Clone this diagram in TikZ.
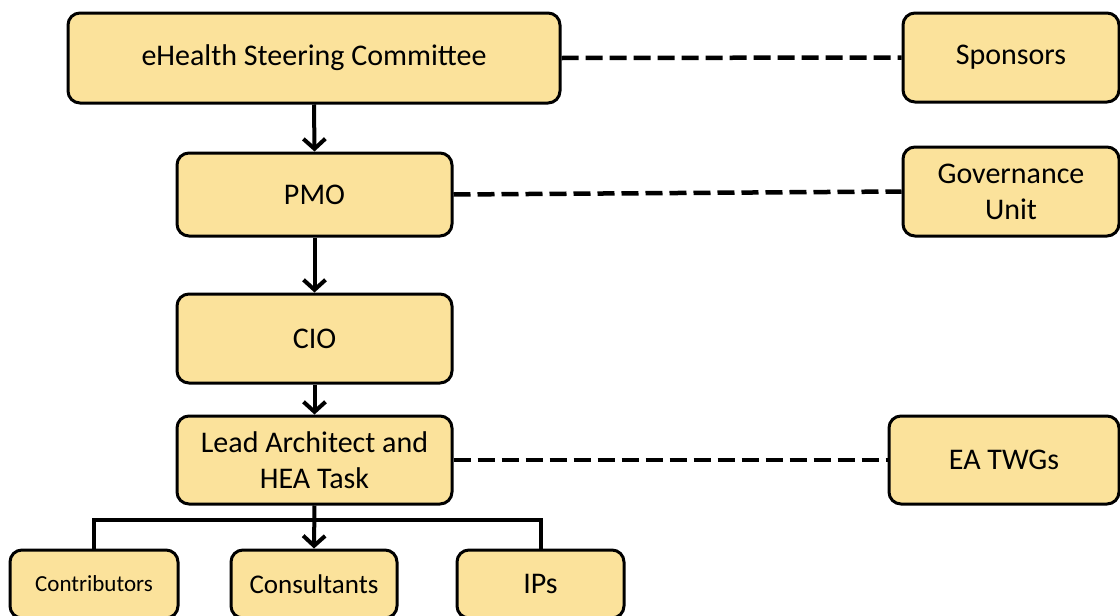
\documentclass[tikz,border=0pt]{standalone}
\usepackage{fontspec}
\setmainfont{Carlito}
\usetikzlibrary{arrows.meta}
\definecolor{boxfill}{HTML}{FBE29B}
\tikzset{
  x=1pt, y=-1pt,
  orgbox/.style={draw=black, line width=3pt, fill=boxfill, rounded corners=12pt,
    align=center, inner sep=0pt, font=\fontsize{30}{36}\selectfont},
  linkline/.style={line width=4.5pt, dash pattern=on 17pt off 7pt},
  reports/.style={line width=4pt, -{Straight Barb[length=10pt,width=22pt,line width=4pt]}},
  bus/.style={line width=4pt}
}
\begin{document}
\begin{tikzpicture}
\useasboundingbox (0,0) rectangle (1120,616);
\fill[white] (0,0) rectangle (1120,616);
\begin{scope}
\clip (0,0) rectangle (1120,616);
% main chain
\node[orgbox, minimum width=492pt, minimum height=90pt] (steer) at (314,58) {eHealth Steering Committee};
\node[orgbox, minimum width=275pt, minimum height=83pt] (pmo) at (314.5,194.5) {PMO};
\node[orgbox, minimum width=275pt, minimum height=89pt] (cio) at (314.5,338.5) {CIO};
\node[orgbox, minimum width=275pt, minimum height=88pt] (lead) at (314.5,460) {Lead Architect and\\HEA Task};
% side bodies
\node[orgbox, minimum width=216pt, minimum height=89pt] (spons) at (1011,57.5) {Sponsors};
\node[orgbox, minimum width=216pt, minimum height=89pt] (gov) at (1011,191.5) {Governance\\Unit};
\node[orgbox, minimum width=230pt, minimum height=88pt] (twg) at (1004,460) {EA TWGs};
% teams
\node[orgbox, minimum width=168pt, minimum height=68pt, font=\fontsize{23}{27}\selectfont] (contrib) at (94,584) {Contributors};
\node[orgbox, minimum width=166pt, minimum height=68pt, font=\fontsize{27}{32}\selectfont] (consult) at (314,584) {Consultants};
\node[orgbox, minimum width=167pt, minimum height=68pt] (ips) at (540.5,584) {IPs};
% reporting lines
\draw[reports] (steer.south) -- (pmo.north);
\draw[reports] (pmo.south) -- (cio.north);
\draw[reports] (cio.south) -- (lead.north);
\draw[reports] (lead.south) -- (consult.north);
\coordinate (busmid) at (314,520);
\draw[bus] (contrib.north) |- (busmid) -| (ips.north);
% dashed links
\draw[linkline] (steer.east) -- (spons.west);
\draw[linkline] (pmo.east) -- (gov.west);
\draw[linkline] (lead.east) -- (twg.west);
\end{scope}
\end{tikzpicture}
\end{document}
